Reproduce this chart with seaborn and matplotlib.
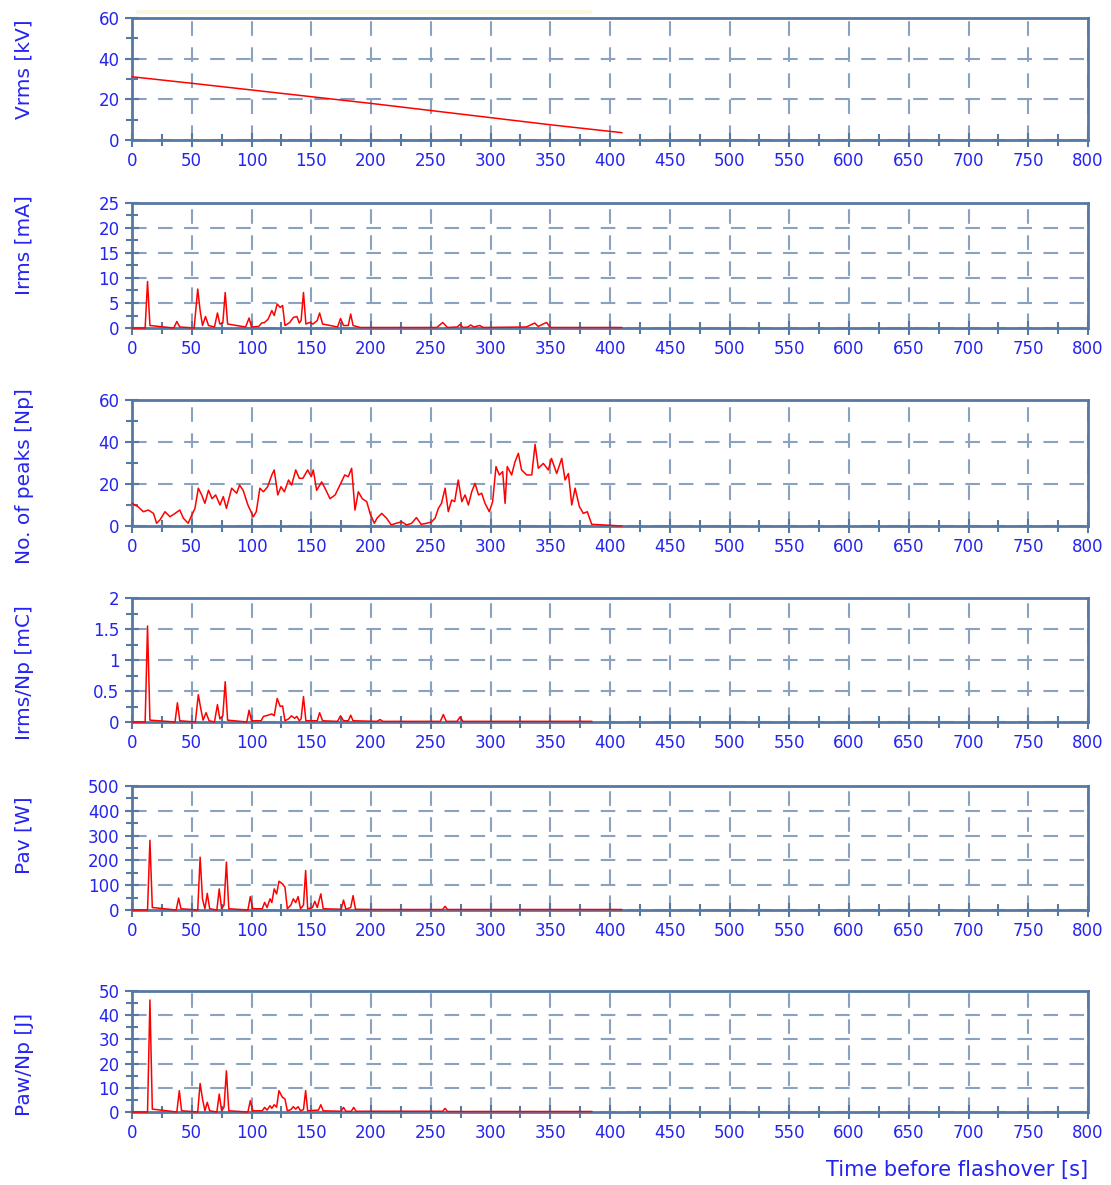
import matplotlib
matplotlib.use('Agg')
import matplotlib.pyplot as plt
import seaborn as sns
import pandas as pd
from matplotlib.ticker import MultipleLocator, FuncFormatter
from matplotlib import font_manager

# ---------------- data ----------------
vrms_t = [0, 50, 100, 150, 200, 250, 300, 350, 410]
vrms_v = [31.1, 27.9, 24.6, 21.3, 18.0, 14.5, 11.0, 7.5, 3.6]

irms_t = [0, 11, 13, 15, 35, 37.5, 40, 52, 55, 57,
          59, 61.5, 64, 69, 71.5, 73.5, 76, 78, 80, 95,
          98, 100, 106, 108.5, 111, 114, 117, 119, 121.5, 124,
          126, 128, 132, 135, 138, 140, 141.5, 143.5, 145.5, 148.5,
          151.5, 155, 157, 159.5, 172, 174.5, 177, 181, 183, 185,
          191, 255, 260, 264, 272, 274.5, 277, 281, 283.5, 286,
          291, 294, 330, 337, 340, 344, 347, 350, 410]
irms_v = [0, 0, 9.3, 0.5, 0, 1.3, 0.2, 0, 7.8, 3.5,
          0.5, 2.3, 0.5, 0.2, 3, 0.8, 1, 7.1, 0.8, 0.2,
          2, 0.2, 0.3, 1, 1.1, 1.8, 3.5, 2.5, 4.8, 4.1,
          4.5, 0.5, 1.1, 2.1, 2.3, 1, 1.5, 7.1, 0.8, 1.1,
          0.8, 1.5, 3, 0.8, 0.2, 1.9, 0.5, 0.5, 2.8, 0.5,
          0.1, 0.1, 1.1, 0.1, 0.2, 0.7, 0.1, 0.2, 0.6, 0.2,
          0.5, 0.1, 0.2, 1.0, 0.3, 0.8, 1.1, 0.1, 0.1]

peaks_t = [0, 5, 9.5, 13.7, 18, 20.6, 23.4, 27.6, 31.8, 36,
           40, 43, 47, 50, 52.7, 55.5, 58.3, 61, 64, 67,
           70, 73.6, 76.4, 79, 83.4, 87.6, 90, 93, 97, 101.5,
           104, 107, 110, 113.5, 117, 119, 122, 124.7, 127.5, 131,
           133.6, 137, 140, 143, 147, 150, 151.7, 154.5, 158.7, 161.5,
           165.7, 170, 174, 178, 181, 183.8, 186.6, 189.4, 192.7, 196.4,
           199.5, 202.8, 205, 209, 213, 217, 221, 225.7, 229.9, 234,
           238, 242, 246.6, 250.8, 253.6, 256.4, 259, 262, 264.7, 267.5,
           270, 273, 276, 278.7, 281.5, 284.3, 287, 290, 292.6, 295.4,
           299, 301.8, 304.6, 307.4, 310.2, 312.2, 314, 317.7, 320.5, 323.3,
           326, 330.3, 334.5, 337.3, 340, 344.2, 348.4, 351, 355.4, 359.6,
           362.4, 365.2, 368, 370.8, 374.4, 377.7, 381, 384.7, 394.5, 410]
peaks_v = [10.8, 9.2, 6.8, 7.6, 6, 1.3, 2.9, 6.8, 4.4, 6,
           7.6, 3.7, 1.3, 5.2, 8.4, 18, 14.8, 10.8, 17, 13,
           14.8, 10, 14, 8.4, 18, 15.6, 19.5, 17, 10, 4.4,
           6.8, 18, 16.3, 18.7, 24.3, 26.7, 14.8, 18.7, 16.3, 21.9,
           19.5, 26.7, 22.7, 22.7, 26.7, 23.5, 26.7, 17, 21, 18,
           13, 14.8, 19.5, 24.3, 23.5, 27.5, 7.6, 16.3, 13, 11.6,
           5.5, 1.3, 3.7, 6, 3.7, 0.5, 1.3, 2, 0.5, 1.3,
           4, 0.8, 1.3, 2, 3.7, 8.4, 10.8, 18, 6.8, 12.4,
           11.6, 21.9, 11.6, 14.8, 10, 16.3, 20.3, 14.8, 15.6, 10.8,
           6.8, 11.6, 28.3, 24.3, 25.9, 10.8, 28.3, 24.3, 30.6, 34.6,
           26.7, 24.3, 24.3, 38.9, 27.5, 29.8, 26.7, 32.2, 25, 32.2,
           21.9, 25, 10, 18, 9.2, 6, 6.8, 0.8, 0.5, 0]

inp_t = [0, 11, 13, 15, 36, 38, 40, 53, 55.5, 57.5,
         59.5, 62, 64.5, 69, 71.5, 73.5, 76, 78, 80, 96,
         98, 100, 108, 110, 114, 117, 119, 121.5, 124, 126,
         128, 131, 133.5, 136, 138, 140, 141.5, 143.5, 145.5, 155,
         157, 159.5, 172, 174.5, 177, 181, 183, 185, 205, 207.5,
         210, 258, 260.5, 263, 272, 274.5, 277, 385]
inp_v = [0, 0, 1.55, 0.03, 0, 0.31, 0.02, 0, 0.44, 0.22,
         0.03, 0.15, 0.02, 0, 0.28, 0.05, 0.1, 0.65, 0.03, 0,
         0.19, 0.02, 0.02, 0.09, 0.11, 0.13, 0.1, 0.38, 0.25, 0.26,
         0.02, 0.05, 0.1, 0.06, 0.09, 0.02, 0.05, 0.41, 0.02, 0.02,
         0.15, 0.02, 0.01, 0.1, 0.02, 0.02, 0.11, 0.02, 0.01, 0.04,
         0.01, 0.01, 0.12, 0.01, 0.01, 0.08, 0.01, 0.01]

pav_t = [0, 13, 15, 17, 37, 39, 41, 55, 57, 59,
         61, 63, 65, 71, 73, 75, 77, 79, 81, 97,
         99, 101, 109, 111, 113, 115.5, 117, 119, 121, 123,
         126, 128, 130, 133, 135, 137, 139, 141, 143.5, 145.3,
         147, 151, 153, 155, 158, 160, 175, 177, 179, 183,
         185, 187, 200, 260, 262, 264, 410]
pav_v = [0, 0, 281, 10, 0, 48, 5, 0, 213, 44,
         5, 67, 5, 0, 85, 5, 20, 193, 5, 0,
         54, 5, 5, 31, 10, 45, 30, 85, 65, 116,
         105, 92, 5, 20, 45, 30, 54, 5, 20, 159,
         5, 10, 35, 10, 65, 5, 3, 40, 3, 10,
         58, 3, 2, 2, 15, 2, 2]

pawnp_t = [0, 13, 15, 17, 37.5, 39.6, 41.5, 55, 57, 59,
           61, 63, 65, 71, 73, 75, 77, 79, 81, 97,
           99, 101, 109, 111, 113, 115.5, 117, 119, 121, 123,
           126, 128, 130, 133, 135, 137, 139, 141, 143.5, 145.3,
           147, 156, 158, 160, 175, 177, 179, 183.5, 185.5, 187.5,
           260, 262, 264, 385]
pawnp_v = [0, 0, 46.3, 1.2, 0, 8.8, 0.5, 0, 11.8, 5.4,
           0.5, 4, 0.5, 0, 7.4, 0.5, 2, 17, 0.5, 0,
           4.7, 0.5, 0.5, 1.9, 0.8, 2.6, 1.5, 3, 2, 8.8,
           6, 5.4, 0.5, 1, 2.2, 1.2, 2.2, 0.5, 1, 8.8,
           0.5, 0.8, 3, 0.5, 0.3, 1.9, 0.3, 0.3, 1.9, 0.3,
           0.3, 1.5, 0.2, 0.2]

ylabels = ["Vrms [kV]", "Irms [mA]", "No. of peaks [Np]",
           "Irms/Np [mC]", "Pav [W]", "Paw/Np [J]"]
xlabel = "Time before flashover [s]"
highlight_t = [5, 383]
highlight_v = [63, 63]

# ---------------- styling ----------------
sns.set_theme(style="white")
plt.rcParams['font.family'] = ['DejaVu Sans']


def has_font(name):
    try:
        font_manager.findfont(font_manager.FontProperties(family=name),
                              fallback_to_default=False)
        return True
    except Exception:
        return False


if has_font('Liberation Sans Narrow'):
    tick_font, tick_size = 'Liberation Sans Narrow', 14
else:
    tick_font, tick_size = 'DejaVu Sans', 12

BLUE_TXT = '#2424f0'
SPINE = '#5679a3'
GRID = '#8aa2c0'
RED = '#ff0000'

W, H = 1111, 1185
fig = plt.figure(figsize=(W / 100, H / 100), dpi=100)
fig.patch.set_facecolor('white')

# (top_px, bottom_px, ymax, major, minor, label_y_frac)
panels = [
    (18, 140, 60, 20, 10, 0.58),
    (203, 328, 25, 5, 2.5, 0.66),
    (400, 526, 60, 20, 10, 0.40),
    (598, 722, 2, 0.5, 0.25, 0.40),
    (786, 910, 500, 100, 50, 0.60),
    (991, 1112, 50, 10, 5, 0.39),
]
series = [(vrms_t, vrms_v), (irms_t, irms_v), (peaks_t, peaks_v),
          (inp_t, inp_v), (pav_t, pav_v), (pawnp_t, pawnp_v)]

left_px, right_px = 132, 1088
fmt = FuncFormatter(lambda v, p: f"{v:g}")

for i, ((top, bot, ymax, maj, mnr, ly), (ts, vs)) in enumerate(zip(panels, series)):
    ax = fig.add_axes([left_px / W, 1 - bot / H, (right_px - left_px) / W, (bot - top) / H])
    ax.set_facecolor('white')
    df = pd.DataFrame({'t': ts, 'v': vs})
    sns.lineplot(data=df, x='t', y='v', ax=ax, color=RED, lw=1.1,
                 estimator=None, sort=False, zorder=4, clip_on=False)
    ax.set_xlim(0, 800)
    ax.set_ylim(0, ymax)
    ax.xaxis.set_major_locator(MultipleLocator(50))
    ax.xaxis.set_minor_locator(MultipleLocator(25))
    ax.yaxis.set_major_locator(MultipleLocator(maj))
    ax.yaxis.set_minor_locator(MultipleLocator(mnr))
    ax.yaxis.set_major_formatter(fmt)
    ax.xaxis.set_major_formatter(fmt)
    ax.grid(True, which='major', color=GRID, lw=1.5, linestyle=(0, (7, 5.5)))
    ax.set_axisbelow(True)
    for s in ax.spines.values():
        s.set_color(SPINE)
        s.set_linewidth(2)
        s.set_zorder(3)
    ax.tick_params(which='major', direction='inout', length=10, width=1.5,
                   color=SPINE, labelcolor=BLUE_TXT, labelsize=tick_size, pad=4,
                   bottom=True, left=True, top=False, right=False)
    ax.tick_params(which='minor', direction='inout', length=8, width=1.5,
                   color=SPINE, bottom=True, left=True, top=False, right=False)
    for lab in ax.get_xticklabels() + ax.get_yticklabels():
        lab.set_fontfamily(tick_font)
    ax.set_xlabel('')
    ax.set_ylabel(ylabels[i], color=BLUE_TXT, fontsize=14.5)
    ax.yaxis.set_label_coords(-0.103, ly)
    if i == 0:
        ax.plot(highlight_t, highlight_v, color='#fbf6dc', lw=3, clip_on=False, zorder=1)

fig.text(right_px / W, 1 - 1170 / H, xlabel, ha='right', va='center',
         color=BLUE_TXT, fontsize=15)

fig.savefig('out.png', dpi=100, facecolor='white')
